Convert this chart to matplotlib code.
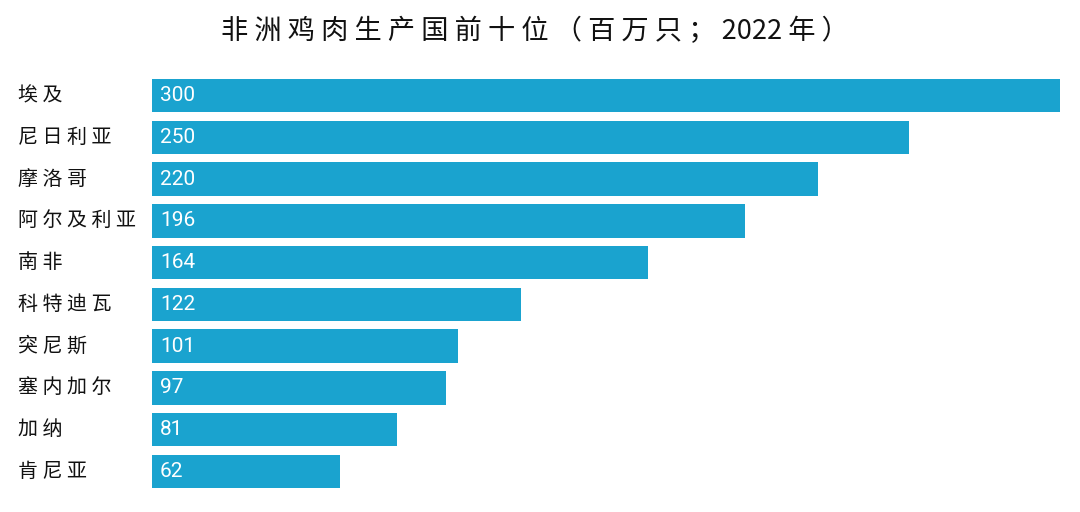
import re
import matplotlib.pyplot as plt

plt.rcParams['font.family'] = ['Noto Sans CJK SC', 'DejaVu Sans']

# Data: top ten chicken meat producers in Africa (millions of birds, 2022)
countries = ['埃及', '尼日利亚', '摩洛哥', '阿尔及利亚', '南非',
             '科特迪瓦', '突尼斯', '塞内加尔', '加纳', '肯尼亚']
values = [300, 250, 220, 196, 164, 122, 101, 97, 81, 62]
title = '非洲鸡肉生产国前十位（百万只；2022年）'

bar_color = '#1aa3cf'


def spaced(s):
    # loose letter spacing like the original, digits kept together
    parts = re.findall(r'\d+|.', s)
    return ' '.join(parts)


fig = plt.figure(figsize=(10.8, 5.12), dpi=100)
ax = fig.add_axes([152 / 1080, 24 / 512, 908 / 1080, 409 / 512])

y_pos = list(range(len(countries)))
ax.barh(y_pos, values, height=0.8, color=bar_color)

ax.set_xlim(0, 300)
ax.set_ylim(len(countries) - 0.6, -0.4)

# Value labels inside the bars
for y, v in zip(y_pos, values):
    ax.text(2.6, y, str(v), color='white', va='center', ha='left',
            fontsize=15, family=['Roboto', 'DejaVu Sans'])

# Country names, left aligned at the figure edge
for y, name in zip(y_pos, countries):
    ax.annotate(spaced(name), xy=(0, y), xycoords=('figure fraction', 'data'),
                xytext=(18, 0), textcoords='offset pixels',
                ha='left', va='center', fontsize=14.4, color='#111111')

ax.set_xticks([])
ax.set_yticks([])
for spine in ax.spines.values():
    spine.set_visible(False)

fig.text(221 / 1080, 1 - 31 / 512, spaced(title), ha='left', va='center',
         fontsize=19.6, color='#111111')

fig.savefig('out.png', dpi=100)
